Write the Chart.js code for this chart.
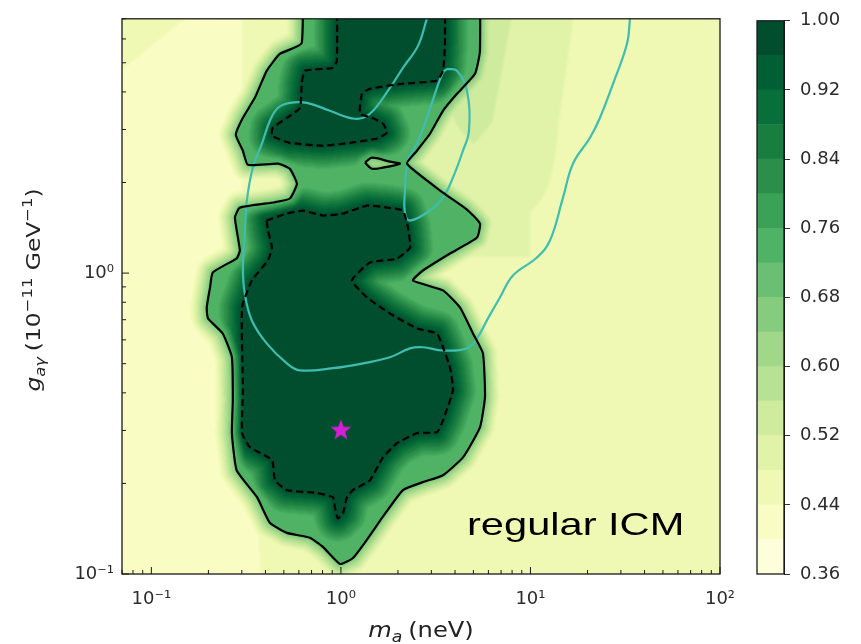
<!DOCTYPE html>
<html>
<head>
<meta charset="utf-8">
<script src="https://cdn.jsdelivr.net/npm/chart.js@4.4.1/dist/chart.umd.min.js"></script>
<style>
  html, body { margin: 0; padding: 0; background: #fff; }
  #wrap { position: relative; width: 861px; height: 644px; }
  #main { position: absolute; left: 0; top: 0; }
  #cbar { position: absolute; left: 740px; top: 0; }
</style>
</head>
<body>
<div id="wrap">
  <canvas id="main" width="861" height="644"></canvas>
  <canvas id="cbar" width="121" height="644"></canvas>
</div>
<script>
// filled-contour levels and colour bar ticks
var levels = [0.36, 0.40, 0.44, 0.48, 0.52, 0.56, 0.60, 0.64, 0.68, 0.72, 0.76, 0.80, 0.84, 0.88, 0.92, 0.96, 1.00];
var cbarTicks = [0.36, 0.44, 0.52, 0.60, 0.68, 0.76, 0.84, 0.92, 1.00];

var xTicks = [0.1, 1, 10, 100];
var xTickLabels = ['10⁻¹', '10⁰', '10¹', '10²'];
var yTicks = [0.1, 1];
var yTickLabels = ['10⁻¹', '10⁰'];

// contours as [m_a (neV), g (1e-11 GeV^-1)]
var solidEdge = [
    [0.622, 20], [0.622, 5.82], [0.476, 5.35], [0.406, 4.70], [0.352, 3.83], [0.304, 3.28],
    [0.279, 2.88], [0.304, 2.55], [0.323, 2.29], [0.466, 2.31], [0.538, 2.22], [0.586, 1.98],
    [0.538, 1.77], [0.449, 1.72], [0.293, 1.65], [0.276, 1.53], [0.293, 1.19], [0.282, 1.12],
    [0.211, 1.005], [0.204, 0.896], [0.196, 0.769], [0.199, 0.707], [0.238, 0.630], [0.266, 0.525],
    [0.269, 0.378], [0.266, 0.294], [0.282, 0.221], [0.361, 0.180], [0.422, 0.148], [0.519, 0.137],
    [0.686, 0.132], [0.804, 0.123], [0.989, 0.108], [1.157, 0.113], [1.372, 0.130], [1.666, 0.155],
    [2.125, 0.190], [2.708, 0.202], [3.454, 0.213], [4.404, 0.244], [5.414, 0.307], [5.753, 0.387],
    [5.615, 0.541], [4.974, 0.630], [4.246, 0.769], [3.454, 0.876], [2.399, 0.945], [2.708, 1.020],
    [3.761, 1.162], [5.222, 1.313], [5.414, 1.461], [4.623, 1.626], [3.454, 1.851], [2.230, 2.310],
    [2.518, 2.551], [2.949, 2.905], [3.454, 3.463], [4.094, 3.944], [5.096, 4.595], [5.414, 5.479],
    [5.41, 20]
];
var solidHole = [
    [1.339, 2.328], [1.458, 2.418], [1.814, 2.346], [2.048, 2.310], [1.666, 2.240], [1.458, 2.223]
];
var dashedTop = [
    [0.953, 20], [0.953, 5.08], [0.908, 4.81], [0.646, 4.70], [0.622, 4.29], [0.608, 3.54],
    [0.519, 3.28], [0.438, 3.04], [0.433, 2.86], [0.538, 2.71], [0.804, 2.65], [1.116, 2.71],
    [1.549, 2.80], [1.748, 2.93], [1.666, 3.14], [1.458, 3.28], [1.260, 3.39], [1.291, 3.94],
    [1.422, 4.10], [2.125, 4.26], [3.211, 4.36], [3.454, 4.70], [3.539, 5.78], [3.54, 20]
];
var dashedLow = [
    [0.406, 1.495], [0.519, 1.577], [0.630, 1.613], [0.804, 1.553], [1.025, 1.577], [1.372, 1.676],
    [1.748, 1.651], [2.125, 1.613], [2.258, 1.417], [2.313, 1.216], [1.975, 1.118], [1.422, 1.084],
    [1.143, 0.945], [1.372, 0.830], [1.814, 0.734], [2.518, 0.655], [3.211, 0.630], [3.454, 0.567],
    [3.761, 0.486], [3.899, 0.408], [3.454, 0.324], [3.211, 0.296], [2.518, 0.294], [1.975, 0.272],
    [1.666, 0.244], [1.422, 0.205], [1.157, 0.190], [1.076, 0.180], [1.025, 0.159], [0.964, 0.153],
    [0.929, 0.167], [0.908, 0.180], [0.746, 0.186], [0.519, 0.190], [0.449, 0.205], [0.433, 0.239],
    [0.331, 0.264], [0.301, 0.294], [0.304, 0.408], [0.301, 0.769], [0.339, 0.945], [0.412, 1.101],
    [0.433, 1.216], [0.412, 1.385]
];
var cyanOuter = [
    [2.84, 7.0], [2.55, 5.69], [2.125, 4.81], [1.814, 4.128], [1.422, 3.385], [1.186, 3.258],
    [0.875, 3.463], [0.662, 3.68], [0.538, 3.68], [0.466, 3.544], [0.422, 3.209], [0.383, 2.692],
    [0.343, 2.240], [0.319, 1.741], [0.311, 1.353], [0.304, 1.044], [0.311, 0.856], [0.339, 0.696],
    [0.406, 0.584], [0.519, 0.501], [0.608, 0.475], [0.908, 0.483], [1.307, 0.501], [1.814, 0.525],
    [2.313, 0.562], [2.708, 0.567], [3.454, 0.553], [4.623, 0.562], [5.222, 0.607], [5.967, 0.707],
    [6.902, 0.830], [8.084, 0.982], [10.82, 1.127], [12.67, 1.283], [14.85, 1.781], [16.76, 2.310],
    [20.61, 2.818], [23.27, 3.283], [27.26, 4.257], [32.30, 5.781], [33.5, 7.0]
];
var cyanLoop = [
    [3.627, 4.773], [4.094, 4.70], [4.623, 4.035], [4.738, 2.972], [4.404, 2.551], [3.899, 2.076],
    [3.454, 1.781], [2.949, 1.613], [2.313, 1.495], [2.177, 1.589], [2.177, 1.879], [2.258, 2.364],
    [2.518, 2.692], [2.844, 3.283], [3.211, 4.128], [3.454, 4.630], [3.627, 4.773]
];
var bestFit = [[1.0, 0.3]];

// background level away from the contours
var bgM = [0.07, 0.15, 0.3, 0.6, 1.2, 2.5, 5, 10, 20, 45, 100];
var bgG = [0.1, 0.2, 0.4, 0.8, 1.6, 3.2, 7];
var bgLevel = [
    [0.42, 0.41, 0.43, 0.46, 0.47, 0.46, 0.45, 0.44, 0.44, 0.45, 0.44],
    [0.42, 0.41, 0.43, 0.47, 0.47, 0.47, 0.46, 0.45, 0.44, 0.45, 0.45],
    [0.41, 0.40, 0.42, 0.47, 0.47, 0.47, 0.46, 0.46, 0.45, 0.45, 0.45],
    [0.42, 0.41, 0.43, 0.47, 0.47, 0.47, 0.47, 0.48, 0.47, 0.46, 0.46],
    [0.42, 0.41, 0.44, 0.47, 0.47, 0.49, 0.49, 0.48, 0.47, 0.46, 0.46],
    [0.43, 0.42, 0.44, 0.47, 0.47, 0.50, 0.53, 0.50, 0.46, 0.46, 0.45],
    [0.45, 0.44, 0.44, 0.47, 0.47, 0.51, 0.54, 0.51, 0.47, 0.45, 0.44]
];

Chart.defaults.font.family = '"DejaVu Sans", sans-serif';

var ylgnStops = ['#ffffe5', '#f7fcb9', '#d9f0a3', '#addd8e', '#78c679', '#41ab5d', '#238443', '#006837', '#004529'];

function hexRgb(h) {
    return [parseInt(h.slice(1, 3), 16), parseInt(h.slice(3, 5), 16), parseInt(h.slice(5, 7), 16)];
}

function ylgn(t) {
    let s = t * 8;
    let k = Math.min(7, Math.floor(s));
    let f = s - k;
    let a = hexRgb(ylgnStops[k]), b = hexRgb(ylgnStops[k + 1]);
    return a.map((c, i) => Math.round(c + (b[i] - c) * f));
}

// one colour per filled band (matplotlib picks the band midpoint)
var bandRgb = levels.slice(0, -1).map((lo, k) => ylgn((2 * k + 1) / 32));

function rgbStr(c) {
    return 'rgb(' + c[0] + ',' + c[1] + ',' + c[2] + ')';
}

function pts(list) {
    return list.map(p => ({ x: p[0], y: p[1] }));
}

function segList(polys) {
    let out = [];
    polys.forEach(poly => {
        for (let i = 0; i < poly.length; i++) {
            let a = poly[i], b = poly[(i + 1) % poly.length];
            let dx = b[0] - a[0], dy = b[1] - a[1];
            let l2 = dx * dx + dy * dy;
            out.push(a[0], a[1], dx, dy, l2 > 0 ? 1 / l2 : 0);
        }
    });
    return new Float64Array(out);
}

function minDist(px, py, s) {
    let best = 1e12;
    for (let k = 0; k < s.length; k += 5) {
        let ax = s[k], ay = s[k + 1], dx = s[k + 2], dy = s[k + 3];
        let t = ((px - ax) * dx + (py - ay) * dy) * s[k + 4];
        t = t < 0 ? 0 : (t > 1 ? 1 : t);
        let ex = ax + t * dx - px, ey = ay + t * dy - py;
        let d2 = ex * ex + ey * ey;
        if (d2 < best) best = d2;
    }
    return Math.sqrt(best);
}

function crossings(poly, yy) {
    let out = [];
    for (let i = 0; i < poly.length; i++) {
        let a = poly[i], b = poly[(i + 1) % poly.length];
        if ((a[1] > yy) !== (b[1] > yy)) {
            out.push(a[0] + (yy - a[1]) * (b[0] - a[0]) / (b[1] - a[1]));
        }
    }
    return out.sort((p, q) => p - q);
}

function gridIndex(arr, v) {
    let k = 0;
    while (k < arr.length - 2 && v > arr[k + 1]) k++;
    let f = (v - arr[k]) / (arr[k + 1] - arr[k]);
    return [k, Math.max(0, Math.min(1, f))];
}

// paints the filled contour field behind the contour lines
var fieldPlugin = {
    id: 'field',
    beforeDatasetsDraw(chart) {
        let ctx = chart.ctx, a = chart.chartArea;
        let xs = chart.scales.x, ys = chart.scales.y;
        let pad = 4;
        let w = Math.round(a.right - a.left) + 2 * pad, h = Math.round(a.bottom - a.top) + 2 * pad;
        let x0 = a.left - pad, y0 = a.top - pad;
        let toPx = list => list.map(p => [xs.getPixelForValue(p[0]) - x0, ys.getPixelForValue(p[1]) - y0]);

        let outer = toPx(solidEdge), hole = toPx(solidHole);
        let top = toPx(dashedTop), low = toPx(dashedLow);
        let solidSegs = segList([outer, hole]);
        let dashSegs = segList([top, low]);

        let lbM = bgM.map(Math.log10), lbG = bgG.map(Math.log10);
        let cols = [], rows = [];
        for (let i = 0; i < w; i++) cols.push(gridIndex(lbM, Math.log10(xs.getValueForPixel(x0 + i + 0.5))));
        for (let j = 0; j < h; j++) rows.push(gridIndex(lbG, Math.log10(ys.getValueForPixel(y0 + j + 0.5))));

        let off = document.createElement('canvas');
        off.width = w;
        off.height = h;
        let octx = off.getContext('2d');
        let img = octx.createImageData(w, h);
        let d = img.data;

        for (let j = 0; j < h; j++) {
            let py = j + 0.5;
            let cO = crossings(outer, py), cH = crossings(hole, py);
            let cT = crossings(top, py), cL = crossings(low, py);
            let iO = 0, iH = 0, iT = 0, iL = 0;
            let r = rows[j][0], fr = rows[j][1];
            for (let i = 0; i < w; i++) {
                let px = i + 0.5;
                while (iO < cO.length && cO[iO] < px) iO++;
                while (iH < cH.length && cH[iH] < px) iH++;
                while (iT < cT.length && cT[iT] < px) iT++;
                while (iL < cL.length && cL[iL] < px) iL++;
                let inSolid = (iO & 1) && !(iH & 1);
                let inDash = (iT & 1) || (iL & 1);
                let v;
                if (inDash) {
                    v = 0.99;
                } else {
                    let ds = minDist(px, py, solidSegs);
                    if (inSolid) {
                        let dd = minDist(px, py, dashSegs);
                        let vd = 0.99 - 0.27 * Math.min(1, dd / 26);
                        let wgt = Math.min(1, ds / 10);
                        v = 0.72 + (vd - 0.72) * wgt;
                    } else {
                        let c = cols[i][0], fc = cols[i][1];
                        let bg = (1 - fr) * ((1 - fc) * bgLevel[r][c] + fc * bgLevel[r][c + 1]) +
                            fr * ((1 - fc) * bgLevel[r + 1][c] + fc * bgLevel[r + 1][c + 1]);
                        v = Math.max(bg, 0.68 - 0.32 * Math.min(1, ds / 22));
                    }
                }
                let band = Math.max(0, Math.min(15, Math.floor((v - 0.36) / 0.04)));
                let col = bandRgb[band];
                let o = (j * w + i) * 4;
                d[o] = col[0];
                d[o + 1] = col[1];
                d[o + 2] = col[2];
                d[o + 3] = 255;
            }
        }
        octx.putImageData(img, 0, 0);
        ctx.save();
        ctx.beginPath();
        ctx.rect(a.left, a.top, a.right - a.left, a.bottom - a.top);
        ctx.clip();
        ctx.filter = 'blur(0.8px)';
        ctx.drawImage(off, x0, y0);
        ctx.restore();
    }
};

function logSteps(min, max) {
    let out = [];
    for (let e = Math.floor(Math.log10(min)); e <= Math.ceil(Math.log10(max)); e++) {
        for (let m = 1; m < 10; m++) {
            let v = m * Math.pow(10, e);
            if (v >= min * 0.999 && v <= max * 1.001) out.push({ v: v, major: m === 1 });
        }
    }
    return out;
}

// frame, inward ticks and the annotation
var framePlugin = {
    id: 'frame',
    afterDatasetsDraw(chart) {
        let ctx = chart.ctx, a = chart.chartArea;
        let xs = chart.scales.x, ys = chart.scales.y;
        ctx.save();
        ctx.strokeStyle = '#1a1a1a';
        ctx.lineWidth = 1.3;
        ctx.strokeRect(a.left, a.top, a.right - a.left, a.bottom - a.top);
        ctx.beginPath();
        logSteps(xs.min, xs.max).forEach(t => {
            let p = xs.getPixelForValue(t.v);
            ctx.moveTo(p, a.bottom);
            ctx.lineTo(p, a.bottom - (t.major ? 7 : 4));
        });
        logSteps(ys.min, ys.max).forEach(t => {
            let p = ys.getPixelForValue(t.v);
            ctx.moveTo(a.left, p);
            ctx.lineTo(a.left + (t.major ? 7 : 4), p);
        });
        ctx.lineWidth = 1;
        ctx.stroke();

        ctx.fillStyle = '#000';
        ctx.font = '32px "Liberation Sans", Arial, sans-serif';
        ctx.textBaseline = 'alphabetic';
        ctx.translate(467, 535);
        ctx.scale(1.3, 1);
        ctx.fillText('regular ICM', 0, 0);
        ctx.restore();
    }
};

function runsWidth(ctx, runs) {
    let wsum = 0;
    runs.forEach(r => {
        ctx.font = r.font;
        wsum += ctx.measureText(r.text).width + (r.gap || 0);
    });
    return wsum;
}

function drawRuns(ctx, runs, x0, y0) {
    let x = x0;
    runs.forEach(r => {
        ctx.font = r.font;
        ctx.fillText(r.text, x, y0 + (r.dy || 0));
        x += ctx.measureText(r.text).width + (r.gap || 0);
    });
}

var FF = '"DejaVu Sans", sans-serif';
var xTitle = [
    { text: 'm', font: 'italic 21px ' + FF },
    { text: 'a', font: 'italic 15px ' + FF, dy: 5, gap: 5 },
    { text: '(neV)', font: '21px ' + FF }
];
var yTitle = [
    { text: 'g', font: 'italic 20px ' + FF },
    { text: 'aγ', font: 'italic 14px ' + FF, dy: 5, gap: 5 },
    { text: '(10', font: '20px ' + FF },
    { text: '−11', font: '14px ' + FF, dy: -8 },
    { text: ' GeV', font: '20px ' + FF },
    { text: '−1', font: '14px ' + FF, dy: -8 },
    { text: ')', font: '20px ' + FF }
];

var titlePlugin = {
    id: 'titles',
    afterDraw(chart) {
        let ctx = chart.ctx;
        ctx.save();
        ctx.fillStyle = '#222';
        ctx.textBaseline = 'alphabetic';
        let wx = runsWidth(ctx, xTitle);
        ctx.translate(421, 637);
        ctx.scale(1.15, 1);
        drawRuns(ctx, xTitle, -wx / 2, 0);
        ctx.restore();

        ctx.save();
        ctx.fillStyle = '#222';
        let wy = runsWidth(ctx, yTitle);
        ctx.translate(40, 290);
        ctx.rotate(-Math.PI / 2);
        ctx.scale(1.17, 1);
        drawRuns(ctx, yTitle, -wy / 2, 0);
        ctx.restore();
    }
};

function starImage(r, color) {
    let c = document.createElement('canvas');
    c.width = c.height = 2 * r + 2;
    let g = c.getContext('2d');
    g.translate(r + 1, r + 1);
    g.beginPath();
    for (let k = 0; k < 10; k++) {
        let rad = k % 2 ? r * 0.42 : r;
        let ang = -Math.PI / 2 + k * Math.PI / 5;
        g.lineTo(rad * Math.cos(ang), rad * Math.sin(ang));
    }
    g.closePath();
    g.fillStyle = color;
    g.fill();
    return c;
}

function contourLine(list, color, dash, tension) {
    return {
        data: pts(list),
        showLine: true,
        borderColor: color,
        borderWidth: 2.2,
        borderDash: dash,
        pointRadius: 0,
        tension: tension,
        fill: false
    };
}

var ctx = document.getElementById('main').getContext('2d');
var mainChart = new Chart(ctx, {
    type: 'scatter',
    data: {
        datasets: [
            contourLine(solidEdge, '#000', [], 0.15),
            contourLine(solidHole.concat([solidHole[0]]), '#000', [], 0.3),
            contourLine(dashedTop, '#000', [7, 4], 0.15),
            contourLine(dashedLow.concat([dashedLow[0]]), '#000', [7, 4], 0.15),
            contourLine(cyanOuter, '#3ebdb0', [], 0.4),
            contourLine(cyanLoop, '#3ebdb0', [], 0.4),
            {
                data: pts(bestFit),
                pointStyle: starImage(11, '#d21fd2'),
                pointRadius: 11,
                showLine: false
            }
        ]
    },
    options: {
        responsive: false,
        animation: false,
        layout: { padding: { top: 18, right: 141, left: 0, bottom: 0 } },
        plugins: { legend: { display: false }, tooltip: { enabled: false } },
        scales: {
            x: {
                type: 'logarithmic',
                min: 0.07,
                max: 100,
                afterBuildTicks: s => { s.ticks = xTicks.map(v => ({ value: v })); },
                afterFit: s => { s.height = 70; },
                grid: { display: false, drawTicks: false },
                border: { display: false },
                ticks: {
                    autoSkip: false, maxRotation: 0, padding: 15, color: '#2b2b2b',
                    font: { size: 18 },
                    callback: (v, i) => xTickLabels[i]
                }
            },
            y: {
                type: 'logarithmic',
                min: 0.1,
                max: 7,
                afterBuildTicks: s => { s.ticks = yTicks.map(v => ({ value: v })); },
                afterFit: s => { s.width = 122; },
                grid: { display: false, drawTicks: false },
                border: { display: false },
                ticks: {
                    autoSkip: false, padding: 8, color: '#2b2b2b',
                    font: { size: 18 },
                    callback: (v, i) => yTickLabels[i]
                }
            }
        }
    },
    plugins: [fieldPlugin, framePlugin, titlePlugin]
});

var outlinePlugin = {
    id: 'outline',
    afterDatasetsDraw(chart) {
        let c = chart.ctx, a = chart.chartArea;
        c.save();
        c.strokeStyle = '#1a1a1a';
        c.lineWidth = 1.3;
        c.strokeRect(a.left, a.top, a.right - a.left, a.bottom - a.top);
        c.restore();
    }
};

var cbar = document.getElementById('cbar').getContext('2d');
var cbarChart = new Chart(cbar, {
    type: 'bar',
    data: {
        labels: [''],
        datasets: levels.slice(0, -1).map((lo, k) => ({
            data: [[lo, levels[k + 1]]],
            backgroundColor: rgbStr(bandRgb[k]),
            grouped: false,
            barPercentage: 1,
            categoryPercentage: 1,
            borderWidth: 0
        }))
    },
    options: {
        responsive: false,
        animation: false,
        layout: { padding: { left: 17, right: 0, top: 18, bottom: 70 } },
        plugins: { legend: { display: false }, tooltip: { enabled: false } },
        scales: {
            x: { display: false },
            y: {
                position: 'right',
                min: 0.36,
                max: 1.0,
                afterBuildTicks: s => { s.ticks = cbarTicks.map(v => ({ value: v })); },
                afterFit: s => { s.width = 77; },
                grid: { drawOnChartArea: false, tickLength: 6, tickColor: '#333', lineWidth: 1 },
                border: { color: '#1a1a1a' },
                ticks: {
                    padding: 10, color: '#2b2b2b', font: { size: 18 },
                    callback: v => v.toFixed(2)
                }
            }
        }
    },
    plugins: [outlinePlugin]
});
</script>
</body>
</html>
